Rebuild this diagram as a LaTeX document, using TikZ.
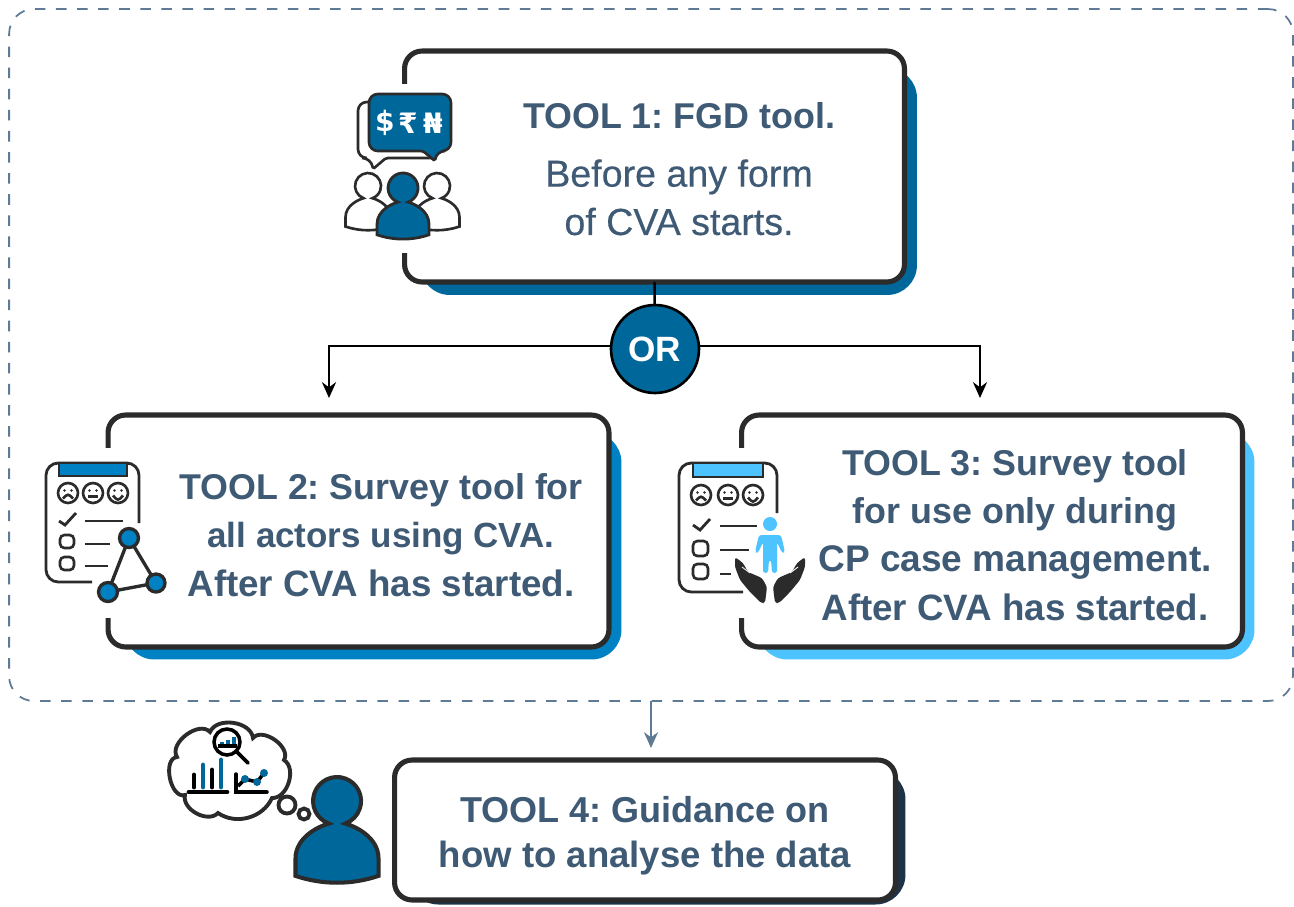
\documentclass[tikz,border=0pt]{standalone}
\usepackage{fontspec}
\usetikzlibrary{arrows.meta}
\setmainfont{Liberation Sans}
\newfontfamily\iconfont{DejaVu Sans}
\newfontfamily\mediumfont[FakeBold=0.35]{Liberation Sans}
\definecolor{tooldark}{HTML}{00679A}
\definecolor{toolmid}{HTML}{0081C3}
\definecolor{toollight}{HTML}{4DC3FF}
\definecolor{toolnavy}{HTML}{1F3348}
\definecolor{tooltext}{HTML}{3E5A75}
\definecolor{framegray}{HTML}{5F7A95}
\definecolor{tooledge}{HTML}{2B2B2B}
\newcommand{\linesize}[2]{{\fontsize{#1}{27.5}\selectfont #2}}
\newcommand{\personicon}[5]{\draw[line width=#4,draw=tooledge,fill=#5,shift={(#1,#2)},scale=#3]
 (-0.34,0.94) arc[start angle=110,end angle=430,radius=1]
 .. controls (0.75,1.05) and (1.73,1.5) .. (1.73,2.4) -- (1.73,3.12)
 .. controls (0.6,3.5) and (-0.6,3.5) .. (-1.73,3.12) -- (-1.73,2.4)
 .. controls (-1.73,1.5) and (-0.75,1.05) .. (-0.34,0.94) -- cycle;}
\newcommand{\faceicon}[4]{\draw[iconline] (#1,#2) circle (10);
 \fill[tooledge] (#1-3.5,#2-2.5) circle (1.4) (#1+3.5,#2-2.5) circle (1.4);
 \draw[iconline] (#1-5,#2+#3) .. controls (#1,#2+#4) .. (#1+5,#2+#3);}
\begin{document}
\begin{tikzpicture}[x=0.02cm,y=-0.02cm,
 toolbox/.style={draw=tooledge,fill=white,line width=2.9pt,rounded corners=10pt,outer sep=0pt,inner sep=0pt},
 toolshadow/.style={rounded corners=17pt,outer sep=0pt,inner sep=0pt},
 tooltxt/.style={text=tooltext,align=center,inner sep=0pt,font=\fontsize{20.4}{27.5}\selectfont\frenchspacing\bfseries},
 flowline/.style={line width=1.4pt,-{Stealth[length=9pt,width=8pt]}},
 iconline/.style={draw=tooledge,line width=1.5pt},
 currency/.style={text=white,inner sep=0pt,font=\iconfont\fontsize{16}{16}\selectfont\bfseries},
 heavyline/.style={draw=black,line width=2.8pt,line cap=round},
 bluebar/.style={draw=tooldark,line width=2.8pt,line cap=round}]

 \useasboundingbox (0,0) rectangle (1294,906);

 \node[draw=framegray,line width=1pt,dash pattern=on 6pt off 6pt,rounded corners=14pt,minimum width=25.68cm,minimum height=13.84cm,inner sep=0pt,outer sep=0pt] (outerframe) at (651,355) {};

 \node[toolshadow,fill=tooldark,minimum width=9.94cm,minimum height=4.54cm] (shadow1) at (668.5,181.5) {};
 \node[toolshadow,fill=toolmid,minimum width=9.94cm,minimum height=4.54cm] (shadow2) at (373,546) {};
 \node[toolshadow,fill=toollight,minimum width=9.94cm,minimum height=4.54cm] (shadow3) at (1006,546) {};
 \node[toolshadow,fill=toolnavy,minimum width=9.94cm,minimum height=2.7cm] (shadow4) at (657,837) {};

 \node[toolbox,minimum width=10cm,minimum height=4.62cm] (box1) at (654.5,166.5) {};
 \node[toolbox,minimum width=10.02cm,minimum height=4.64cm] (box2) at (358.5,531) {};
 \node[toolbox,minimum width=10.02cm,minimum height=4.64cm] (box3) at (992,531) {};
 \node[toolbox,minimum width=10.02cm,minimum height=2.8cm] (box4) at (645,830) {};

 \fill[white] (395,84) rectangle (412,253);
 \fill[white] (100,448) rectangle (116,618);
 \fill[white] (733,448) rectangle (749,618);

 \node[tooltxt] (text1) at (679,169) {TOOL 1: FGD tool.\\[5.5pt]{\mediumfont\mdseries\fontsize{21.4}{27.5}\selectfont Before any form}\\{\mediumfont\mdseries\fontsize{21.4}{27.5}\selectfont of CVA starts.}};
 \node[tooltxt] (text2) at (381,535) {TOOL 2: Survey tool for\\\linesize{19.9}{all actors using CVA.}\\\linesize{20.9}{After CVA has started.}};
 \node[tooltxt] (text3) at (1015,535) {TOOL 3: Survey tool\\for use only during\\\linesize{21.1}{CP case management.}\\\linesize{20.9}{After CVA has started.}};
 \node[tooltxt,font=\fontsize{20.5}{25.5}\selectfont\frenchspacing\bfseries] (text4) at (645,836) {TOOL 4: Guidance on\\\linesize{20.8}{how to analyse the data}};

 \node[circle,draw=black,fill=tooldark,line width=1.5pt,minimum size=1.76cm,inner sep=0pt,outer sep=0pt,text=white,font=\fontsize{20}{24}\selectfont\bfseries] (orcircle) at (655,349) {OR};
 \coordinate (tipleft) at (329,398);
 \coordinate (tipright) at (980,398);
 \coordinate (tipfour) at (651,748);
 \draw[line width=1.4pt] (box1.south) -- (orcircle);
 \draw[flowline] (orcircle.176) -| (tipleft);
 \draw[flowline] (orcircle.4) -| (tipright);
 \draw[line width=1.2pt,draw=framegray,-{Stealth[length=9pt,width=8pt]}] (outerframe.south) -- (tipfour);

 \draw[iconline,fill=white,rounded corners=5pt] (432,102) -- (358,102) -- (358,158) -- (371,158) [rounded corners=1pt] -- (373,169) -- (386,158) [rounded corners=5pt] -- (432,158);
 \draw[iconline,fill=tooldark,rounded corners=5pt] (369,94) -- (451,94) -- (451,151) -- (436,151) [rounded corners=1pt] -- (435,161) -- (423,151) [rounded corners=5pt] -- (369,151) -- cycle;
 \node[currency] (dollar) at (385,123) {\$};
 \node[currency] (rupee) at (408,123) {₹};
 \node[currency] (naira) at (433,123) {₦};
 \personicon{368}{186}{13}{1.5pt}{white}
 \personicon{437}{186}{13}{1.5pt}{white}
 \personicon{403}{188}{15}{1.6pt}{tooldark}

 \draw[iconline,line width=1.6pt,rounded corners=7pt] (139,523) -- (139,463) -- (46,463) -- (46,582) -- (92,582);
 \draw[iconline,fill=toolmid] (59,463) rectangle (127,476);
 \faceicon{68}{493}{5.5}{0.5}
 \faceicon{93}{493}{3.5}{3.5}
 \faceicon{118}{493}{2.5}{8}
 \draw[iconline,line width=1.6pt] (59,521) -- (65,525) -- (76,513);
 \draw[iconline] (85,521) -- (123,521) (85,544) -- (110,544) (85,566) -- (108,566);
 \draw[iconline,rounded corners=2.5pt] (60,535) rectangle (74,548);
 \draw[iconline,rounded corners=2.5pt] (60,557) rectangle (74,570);
 \draw[iconline,line width=1.9pt] (129,538) -- (156,583) -- (108,592) -- cycle;
 \draw[iconline,line width=1.9pt,fill=toolmid] (129,538) circle (9.5);
 \draw[iconline,line width=1.9pt,fill=toolmid] (156,583) circle (9);
 \draw[iconline,line width=1.9pt,fill=toolmid] (108,592) circle (9.5);

 \draw[iconline,line width=1.6pt,rounded corners=7pt] (777,513) -- (777,463) -- (679,463) -- (679,592) -- (743,592);
 \draw[iconline,fill=toollight] (693,463) rectangle (763,477);
 \faceicon{701}{495}{5.5}{0.5}
 \faceicon{728}{495}{3.5}{3.5}
 \faceicon{753}{495}{2.5}{8}
 \draw[iconline,line width=1.6pt] (693,525) -- (700,530) -- (710,519);
 \draw[iconline] (720,526) -- (757,526) (720,550) -- (749,550) (720,574) -- (731,574);
 \draw[iconline,rounded corners=2.5pt] (693,541) rectangle (708,556);
 \draw[iconline,rounded corners=2.5pt] (693,564) rectangle (708,579);
 \fill[toollight] (770,524) circle (7);
 \fill[toollight,rounded corners=1.5pt] (759,535) -- (781,535) -- (785,552) -- (782,553) -- (777,542) -- (777,573) -- (772,573) -- (771,560) -- (769,560) -- (768,573) -- (763,573) -- (763,542) -- (758,553) -- (755,552) -- cycle;
 \fill[tooledge,rounded corners=1.5pt] (735,557) -- (743,563) -- (748,572) -- (762,578) -- (767,587) -- (765,603) -- (761,603) -- (750,592) -- (740,580) -- (735,567) -- cycle;
 \fill[tooledge,rounded corners=1.5pt] (805,557) -- (797,563) -- (792,572) -- (778,578) -- (773,587) -- (775,603) -- (779,603) -- (790,592) -- (800,580) -- (805,567) -- cycle;
 \draw[white,line width=0.5pt] (742,567) -- (750,573) (798,567) -- (790,573);

 \draw[iconline,line width=2.2pt,fill=white] (177,757) to[bend left=85] (210,732) to[bend left=75] (253,738) to[bend left=85] (284,760) to[bend left=75] (272,798) to[bend left=50] (218,813) to[bend left=75] (185,795) to[bend left=95] cycle;
 \draw[iconline,line width=2.2pt] (287,805) circle (8.5);
 \draw[iconline,line width=2.2pt] (304,814) circle (5.5);
 \draw[heavyline] (194,775) -- (194,787) (212,770) -- (212,787) (189,792) -- (227,792);
 \draw[bluebar] (203,765) -- (203,787) (221,760) -- (221,787);
 \draw[draw=black,line width=2pt,line cap=round] (236,774) -- (236,792) -- (267,792);
 \draw[draw=black,line width=2pt] (238,786) -- (245,779) -- (257,782) -- (264,773);
 \fill[tooldark] (245,779) circle (4) (257,782) circle (4) (264,773) circle (4);
 \draw[draw=black,line width=2pt] (227,742) circle (13);
 \draw[draw=black,line width=2.2pt,line cap=round] (236,751) -- (248,763);
 \draw[bluebar,line width=2.4pt,line cap=butt] (222,746) -- (222,742) (228,746) -- (228,740) (234,746) -- (234,737);
 \draw[draw=black,line width=2pt] (218,746) -- (237,746);
 \personicon{337}{801}{24}{2.3pt}{tooldark}
\end{tikzpicture}
\end{document}
